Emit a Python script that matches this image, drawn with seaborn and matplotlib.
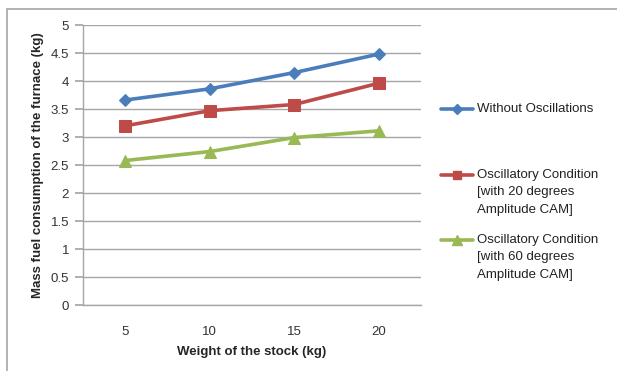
import matplotlib
matplotlib.use("Agg")
import matplotlib.pyplot as plt
import seaborn as sns
import pandas as pd
from matplotlib.lines import Line2D
from matplotlib.patches import Rectangle

weights = ["5", "10", "15", "20"]
without_osc = [3.66, 3.86, 4.15, 4.48]
osc_20deg = [3.20, 3.47, 3.58, 3.96]
osc_60deg = [2.58, 2.74, 2.99, 3.11]
y_ticks = [0, 0.5, 1, 1.5, 2, 2.5, 3, 3.5, 4, 4.5, 5]
y_tick_labels = ["0", "0.5", "1", "1.5", "2", "2.5", "3", "3.5", "4", "4.5", "5"]

series_names = [
    "Without Oscillations",
    "Oscillatory Condition\n[with 20 degrees\nAmplitude CAM]",
    "Oscillatory Condition\n[with 60 degrees\nAmplitude CAM]",
]
colors = ["#4a7ebb", "#be4b48", "#98b954"]
markers = ["D", "s", "^"]
msizes = [6, 8, 9]

rows = []
for name, vals in zip(series_names, [without_osc, osc_20deg, osc_60deg]):
    for i, v in enumerate(vals):
        rows.append({"pos": i, "value": v, "series": name})
df = pd.DataFrame(rows)

sns.set_theme(style="white")
plt.rcParams["font.family"] = ["Liberation Sans", "DejaVu Sans"]

W, H = 617, 371
fig = plt.figure(figsize=(W / 100, H / 100), dpi=100)
ax = fig.add_axes([83 / W, 1 - 305 / H, (421 - 83) / W, (305 - 25) / H])

for name, c, m, ms in zip(series_names, colors, markers, msizes):
    sub = df[df["series"] == name]
    sns.lineplot(data=sub, x="pos", y="value", ax=ax, color=c, marker=m,
                 markersize=ms, markeredgecolor=c, linewidth=2.6, legend=False)

ax.set_xlim(-0.5, 3.5)
ax.set_ylim(0, 5)
ax.set_xticks(range(len(weights)))
ax.set_xticklabels(weights)
ax.set_yticks(y_ticks)
ax.set_yticklabels(y_tick_labels)
ax.yaxis.grid(True, color="#a6a6a6", linewidth=1)
ax.xaxis.grid(False)
ax.set_axisbelow(True)
for s in ["top", "right"]:
    ax.spines[s].set_visible(False)
for s in ["left", "bottom"]:
    ax.spines[s].set_color("#a6a6a6")
    ax.spines[s].set_linewidth(1)
ax.tick_params(axis="y", which="both", left=True, length=6, color="#a6a6a6",
               labelsize=9.5, labelcolor="#333333", pad=4)
ax.tick_params(axis="x", bottom=False, labelsize=9.5, labelcolor="#333333", pad=9)

ax.set_xlabel("Weight of the stock (kg)", fontsize=9.5, fontweight="bold",
              labelpad=6)
ax.set_ylabel("Mass fuel consumption of the furnace (kg)", fontsize=9.5,
              fontweight="bold", labelpad=5)

# Legend drawn as handle + text pairs, text's first line aligned with the handle
entry_y = [109, 175, 240]
for name, c, m, ms, ey in zip(series_names, colors, markers, msizes, entry_y):
    yf = 1 - ey / H
    fig.add_artist(Line2D([441 / W, 473 / W], [yf, yf], transform=fig.transFigure,
                          color=c, linewidth=2.6))
    fig.add_artist(Line2D([457 / W], [yf], transform=fig.transFigure, color=c,
                          marker=m, markersize=ms * 0.8, markeredgecolor=c))
    fig.text(477 / W, 1 - (ey - 6) / H, name, fontsize=9.5, color="#222222",
             va="top", ha="left", linespacing=1.6)

border = Rectangle((6.5 / W, -0.05), 1.2, 1 - 8.5 / H + 0.05,
                   transform=fig.transFigure, fill=False,
                   edgecolor="#a6a6a6", linewidth=1.2)
fig.patches.append(border)

fig.savefig("out.png", dpi=100)
